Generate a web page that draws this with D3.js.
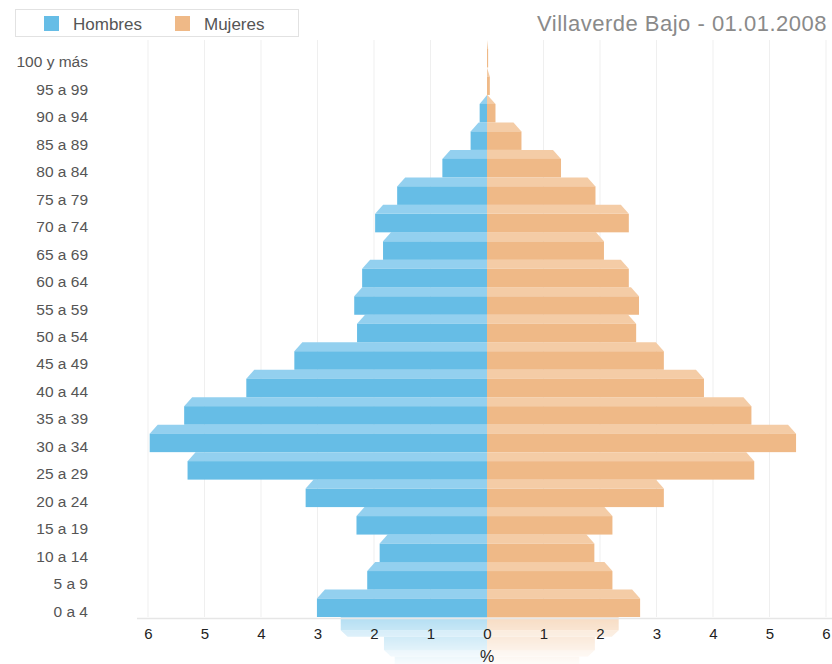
<!DOCTYPE html>
<html>
<head>
<meta charset="utf-8">
<script src="https://cdn.jsdelivr.net/npm/d3@7"></script>
<style>
  html, body { margin: 0; padding: 0; background: #fff; }
  svg { display: block; font-family: "Liberation Sans", Arial, Helvetica, sans-serif; }
</style>
</head>
<body>
<svg id="chart" width="832" height="664"></svg>
<script>
// ---- data ----
const categories = ["0 a 4","5 a 9","10 a 14","15 a 19","20 a 24","25 a 29","30 a 34","35 a 39","40 a 44","45 a 49",
  "50 a 54","55 a 59","60 a 64","65 a 69","70 a 74","75 a 79","80 a 84","85 a 89","90 a 94","95 a 99","100 y más"];
const hombres = [3.01, 2.12, 1.90, 2.31, 3.21, 5.30, 5.97, 5.36, 4.26, 3.41, 2.30, 2.35, 2.21, 1.84, 1.98, 1.59, 0.79, 0.29, 0.13, 0.00, 0.00];
const mujeres = [2.71, 2.22, 1.90, 2.22, 3.13, 4.73, 5.47, 4.68, 3.84, 3.13, 2.64, 2.69, 2.51, 2.07, 2.51, 1.92, 1.31, 0.61, 0.15, 0.05, 0.02];
const xTicks = [-6,-5,-4,-3,-2,-1,0,1,2,3,4,5,6];
const seriesNames = ["Hombres", "Mujeres"];
const title = "Villaverde Bajo - 01.01.2008";
const axisTitle = "%";

// ---- layout ----
const svg = d3.select("#chart");
const plotTop = 40, plotBottom = 617;
const x = d3.scaleLinear().domain([-6, 6]).range([148, 826]);
const y = d3.scaleBand().domain(categories).range([plotBottom, plotTop]).padding(0);
const bw = y.bandwidth();
const depth = 9, slant = 8;
const colors = {
  hFront: "#66bde6", hTop: "#93d0ef",
  mFront: "#efb987", mTop: "#f4cca6"
};

const defs = svg.append("defs");
const fade = defs.append("linearGradient").attr("id", "fade")
  .attr("gradientUnits", "userSpaceOnUse").attr("x1", 0).attr("x2", 0)
  .attr("y1", plotBottom).attr("y2", 664);
fade.append("stop").attr("offset", 0).attr("stop-color", "#fff").attr("stop-opacity", 0.5);
fade.append("stop").attr("offset", 1).attr("stop-color", "#fff").attr("stop-opacity", 0.05);
defs.append("mask").attr("id", "reflMask")
  .append("rect").attr("x", 0).attr("y", plotBottom).attr("width", 832).attr("height", 60).attr("fill", "url(#fade)");

// gridlines
svg.append("g").selectAll("line").data(xTicks.filter(d => d !== 0)).join("line")
  .attr("x1", d => x(d)).attr("x2", d => x(d))
  .attr("y1", plotTop).attr("y2", plotBottom)
  .attr("stroke", "#efefef").attr("stroke-width", 1);

const rows = categories.map((c, i) => ({ cat: c, h: hombres[i], m: mujeres[i] }));

function drawBars(g) {
  const x0 = x(0);
  const row = g.selectAll("g.row").data(rows).join("g").attr("class", "row");
  // men
  row.filter(d => d.h > 0).append("path")
    .attr("fill", colors.hTop)
    .attr("d", d => {
      const T = y(d.cat), xo = x(-d.h), s = Math.min(slant, x0 - xo);
      return `M${xo},${T + depth}L${xo + s},${T}L${x0},${T}L${x0},${T + depth}Z`;
    });
  row.filter(d => d.h > 0).append("rect")
    .attr("fill", colors.hFront)
    .attr("x", d => x(-d.h)).attr("width", d => x0 - x(-d.h))
    .attr("y", d => y(d.cat) + depth).attr("height", bw - depth);
  // women
  row.filter(d => d.m > 0).append("path")
    .attr("fill", colors.mTop)
    .attr("d", d => {
      const T = y(d.cat), xo = x(d.m), s = Math.min(slant, xo - x0);
      return `M${xo},${T + depth}L${xo - s},${T}L${x0},${T}L${x0},${T + depth}Z`;
    });
  row.filter(d => d.m > 0).append("rect")
    .attr("fill", colors.mFront)
    .attr("x", x0).attr("width", d => x(d.m) - x0)
    .attr("y", d => y(d.cat) + depth).attr("height", bw - depth);
}

// reflection
const refl = svg.append("g").attr("mask", "url(#reflMask)")
  .append("g")
  .attr("transform", `translate(${x(0)},${plotBottom}) scale(0.86,-0.72) translate(${-x(0)},${-plotBottom})`);
drawBars(refl);

// bars
drawBars(svg.append("g"));

// baseline
svg.append("line").attr("x1", 137).attr("x2", 832).attr("y1", plotBottom + 1.5).attr("y2", plotBottom + 1.5)
  .attr("stroke", "#e6e6e6").attr("stroke-width", 1.5);

// x axis
const xAxis = svg.append("g").attr("transform", `translate(0,${plotBottom + 8})`)
  .call(d3.axisBottom(x).tickValues(xTicks).tickSize(0).tickFormat(d => Math.abs(d)));
xAxis.select(".domain").remove();
xAxis.selectAll("text").attr("font-size", 15).attr("fill", "#222")
  .attr("font-family", "'Liberation Sans', Arial, sans-serif");

svg.append("text").attr("x", x(0)).attr("y", 662).attr("text-anchor", "middle")
  .attr("font-size", 16).attr("fill", "#222").text(axisTitle);

// y labels
svg.append("g").selectAll("text").data(categories).join("text")
  .attr("x", 88).attr("y", d => y(d) + bw / 2 + 8)
  .attr("text-anchor", "end").attr("dominant-baseline", "central")
  .attr("font-size", 15.5).attr("fill", "#555").text(d => d);

// legend
const lg = svg.append("g");
lg.append("rect").attr("x", 15.5).attr("y", 9.5).attr("width", 283).attr("height", 27)
  .attr("fill", "#fff").attr("stroke", "#e2e2e2");
const legendColors = [colors.hFront, colors.mFront];
const legendX = [44, 175];
seriesNames.forEach((n, i) => {
  lg.append("rect").attr("x", legendX[i]).attr("y", 16).attr("width", 15).attr("height", 15).attr("fill", legendColors[i]);
  lg.append("text").attr("x", legendX[i] + 29).attr("y", 29.5).attr("font-size", 17).attr("fill", "#555").text(n);
});

// title
svg.append("text").attr("x", 827).attr("y", 31).attr("text-anchor", "end")
  .attr("font-size", 22).attr("letter-spacing", 0.5).attr("fill", "#8a8a8a").text(title);
</script>
</body>
</html>
